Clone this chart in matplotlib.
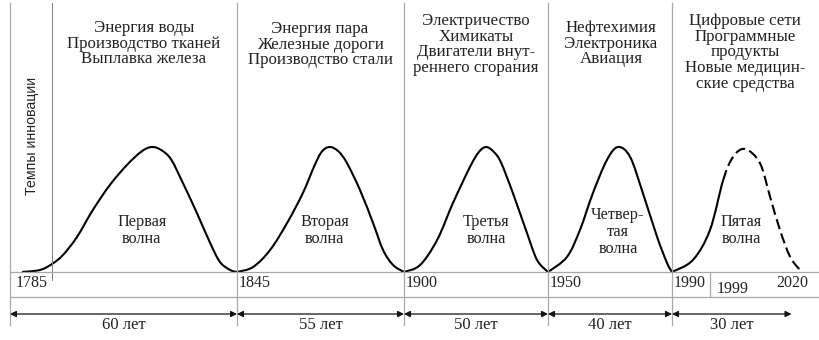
import numpy as np
import matplotlib
matplotlib.use('Agg')
import matplotlib.pyplot as plt
from matplotlib.path import Path
from matplotlib.patches import PathPatch

# границы волн, годы
bounds = [1785, 1845, 1900, 1950, 1990, 2020]
durations = ['60 лет', '55 лет', '50 лет', '40 лет', '30 лет']
extra_year = 1999

techs = [
    'Энергия воды\nПроизводство тканей\nВыплавка железа',
    'Энергия пара\nЖелезные дороги\nПроизводство стали',
    'Электричество\nХимикаты\nДвигатели внут-\nреннего сгорания',
    'Нефтехимия\nЭлектроника\nАвиация',
    'Цифровые сети\nПрограммные\nпродукты\nНовые медицин-\nские средства',
]
wave_names = ['Первая\nволна', 'Вторая\nволна', 'Третья\nволна',
              'Четвер-\nтая\nволна', 'Пятая\nволна']

# точки волн (год, уровень)
w1_yr = [1788.2, 1792.9, 1796.1, 1799.0, 1802.7, 1806.9, 1811.4, 1815.9, 1819.8, 1822.5,
         1825.0, 1827.6, 1830.7, 1834.4, 1837.9, 1840.5, 1843.2, 1845]
w1_lv = [0, 0.016, 0.064, 0.136, 0.28, 0.496, 0.696, 0.856, 0.965, 1.0,
         0.975, 0.9, 0.712, 0.472, 0.232, 0.08, 0.016, 0]
w2_yr = [1845, 1850.3, 1855.9, 1861.5, 1866.7, 1870.5, 1873.0, 1875.6, 1878.4, 1881.2,
         1885.5, 1889.8, 1893.1, 1896.4, 1900]
w2_lv = [0, 0.04, 0.176, 0.392, 0.632, 0.85, 0.965, 1.0, 0.965, 0.872,
         0.656, 0.392, 0.176, 0.056, 0]
w3_yr = [1900, 1905.6, 1911.5, 1917.0, 1922.9, 1926.0, 1928.5, 1931.0, 1933.6, 1937.8, 1942.7, 1946.2, 1950]
w3_lv = [0, 0.056, 0.256, 0.552, 0.84, 0.96, 1.0, 0.965, 0.88, 0.632, 0.312, 0.096, 0]
w4_yr = [1950, 1956.1, 1960.3, 1964.5, 1969.0, 1972.6, 1976.5, 1980.6, 1985.2, 1988.4, 1990]
w4_lv = [0, 0.12, 0.336, 0.632, 0.896, 1.0, 0.92, 0.632, 0.28, 0.072, 0]
w5_yr = [1990, 1994.9, 1998.9, 2002.0, 2004.3, 2007.1, 2010.6, 2013.0, 2015.3, 2017.7, 2020]
w5_lv = [0, 0.096, 0.336, 0.736, 0.92, 0.984, 0.872, 0.6, 0.336, 0.12, 0.016]
w5_solid_until = 2002.0

waves = [(w1_yr, w1_lv), (w2_yr, w2_lv), (w3_yr, w3_lv), (w4_yr, w4_lv), (w5_yr, w5_lv)]

# схематичная шкала времени: граница -> пиксель
W, H = 820, 340
bpx = [10, 237, 404, 548, 672, 800]
k0 = (bpx[1] - bpx[0]) / (bounds[1] - bounds[0])
k1 = (bpx[-1] - bpx[-2]) / (bounds[-1] - bounds[-2])
yr_ext = np.array([bounds[0] - 200] + bounds + [bounds[-1] + 200], float)
px_ext = np.array([bpx[0] - 200 * k0] + bpx + [bpx[-1] + 200 * k1], float)


def fwd(x):
    return np.interp(x, yr_ext, px_ext)


def inv(p):
    return np.interp(p, px_ext, yr_ext)


base_py, peak_py = 272, 147


def lv(py):
    # пиксель по вертикали -> уровень
    return (base_py - py) / (base_py - peak_py)


def smooth_path(xs, ys, i0=0, i1=None):
    p = np.column_stack([xs, ys]).astype(float)
    pp = np.vstack([p[0], p, p[-1]])
    if i1 is None:
        i1 = len(p) - 1
    verts = [p[i0]]
    codes = [Path.MOVETO]
    for i in range(i0, i1):
        a, b, c, d = pp[i], pp[i + 1], pp[i + 2], pp[i + 3]
        verts += [b + (c - a) / 6, c - (d - b) / 6, c]
        codes += [Path.CURVE4] * 3
    return Path(verts, codes)


serif = 'Liberation Serif'
sans = 'Liberation Sans'
grid_c = '#a8a8a8'
txt_c = '#222222'

fig = plt.figure(figsize=(W / 100, H / 100), dpi=100)
ax = fig.add_axes([bpx[0] / W, 0, (bpx[-1] - bpx[0]) / W, 1])
ax.set_xscale('function', functions=(fwd, inv))
ax.set_xlim(bounds[0], bounds[-1])
ax.set_ylim(lv(H), lv(0))
ax.axis('off')

# вертикальные линии границ
for b in bounds[:-1]:
    ax.plot([b, b], [lv(3), lv(325)], color=grid_c, lw=0.9, clip_on=False)
# ось "темпы инновации"
axis_year = 1796.1
ax.plot([axis_year, axis_year], [lv(3), lv(280)], color='#808080', lw=0.7)
ax.text(axis_year - 5.3, lv(136), 'Темпы инновации', rotation=90, ha='center',
        va='center', family=sans, fontsize=10.2, color=txt_c)

# горизонтальные линии
right_frac = (W - bpx[0]) / (bpx[-1] - bpx[0])
tr = ax.get_yaxis_transform()
for py in (base_py, 297):
    ax.plot([0, right_frac], [lv(py), lv(py)], color=grid_c, lw=0.9,
            transform=tr, clip_on=False)
ax.plot([extra_year, extra_year], [lv(base_py), lv(297)], color=grid_c, lw=0.9)

# годы
for b in bounds[:-1]:
    dx = 6 if b == bounds[0] else 2
    ax.annotate(str(b), (b, lv(283)), xytext=(dx, 0), textcoords='offset pixels',
                ha='left', va='center', family=serif, fontsize=11.5, color=txt_c)
ax.annotate(str(extra_year), (extra_year, lv(289)), xytext=(6, 0), textcoords='offset pixels',
            ha='left', va='center', family=serif, fontsize=11.5, color=txt_c)
ax.annotate(str(bounds[-1]), (bounds[-1], lv(283)), xytext=(8, 0), textcoords='offset pixels',
            ha='right', va='center', family=serif, fontsize=11.5, color=txt_c)

# стрелки длительности
arrow_y = lv(314)
ends = bounds[1:-1] + [bounds[-1] - 2]
for a, b, lab in zip(bounds[:-1], ends, durations):
    ax.annotate('', xy=(b, arrow_y), xytext=(a, arrow_y),
                arrowprops=dict(arrowstyle='<|-|>', color='#111111', lw=0.9,
                                mutation_scale=9, shrinkA=0, shrinkB=0))
    mid = inv((fwd(a) + fwd(b)) / 2)
    ax.text(mid, lv(325), lab, ha='center', va='center', family=serif,
            fontsize=12, color=txt_c)

# волны
for i, (xs, ys) in enumerate(waves):
    if i < 4:
        ax.add_patch(PathPatch(smooth_path(xs, ys), fill=False, lw=1.5, color='black'))
    else:
        k = xs.index(w5_solid_until)
        ax.add_patch(PathPatch(smooth_path(xs, ys, 0, k), fill=False, lw=1.5, color='black'))
        ax.add_patch(PathPatch(smooth_path(xs, ys, k), fill=False, lw=1.5, color='black',
                               linestyle=(0, (5, 2.2))))

# подписи волн
name_py = [217, 217, 217, 210, 217]
name_dx = [-10, -5, 0, 0, -4]
for (xs, ys), name, py, dx in zip(waves, wave_names, name_py, name_dx):
    pk = xs[int(np.argmax(ys))]
    ax.annotate(name, (pk, lv(py - 3)), xytext=(dx, 0), textcoords='offset pixels',
                ha='center', va='top', family=serif, fontsize=11.7, linespacing=1.1,
                color=txt_c)

# технологии волн
tech_cx = [144, 320, 476, 611, 745]
tech_top = [20, 21, 13, 20, 13]
for t, cx, ty in zip(techs, tech_cx, tech_top):
    ax.text(inv(cx), lv(ty), t, ha='center', va='top', family=serif,
            fontsize=12.2, linespacing=0.97, color=txt_c)

fig.savefig('out.png', dpi=100)
